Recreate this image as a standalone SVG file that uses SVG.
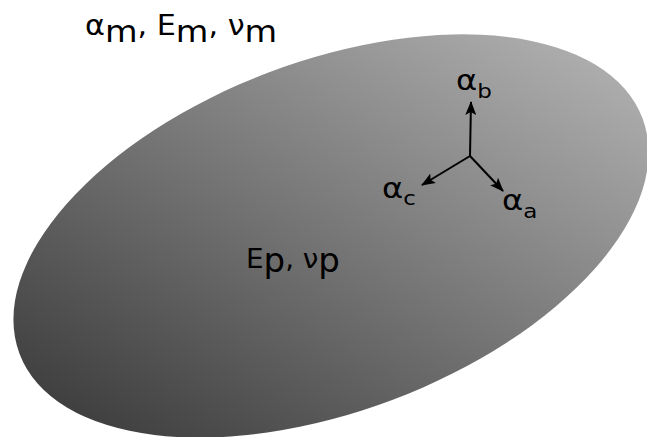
<svg xmlns="http://www.w3.org/2000/svg" width="647" height="437" viewBox="0 0 647 437">
  <defs>
    <linearGradient id="g" gradientUnits="userSpaceOnUse" x1="52" y1="456" x2="563" y2="51">
      <stop offset="0" stop-color="#323232"/>
      <stop offset="1" stop-color="#afafaf"/>
    </linearGradient>
    <marker id="arr" viewBox="0 0 14 11" refX="13" refY="5.5" markerWidth="14" markerHeight="11" markerUnits="userSpaceOnUse" orient="auto">
      <path d="M0,0 L14,5.5 L0,11 L3,5.5 Z" fill="#000"/>
    </marker>
    <style>
      .t { font-family: "DejaVu Sans", sans-serif; fill: #000; }
      .ax { stroke: #000; stroke-width: 2; fill: none; marker-end: url(#arr); }
    </style>
  </defs>
  <rect width="647" height="437" fill="#fff"/>
  <g id="particle">
    <ellipse cx="331" cy="236" rx="333" ry="175" transform="rotate(-20.7 331 236)" fill="url(#g)"/>
    <text class="t" transform="translate(246 268) scale(1.03 1)" font-size="27">E<tspan font-size="33" dy="4">p</tspan><tspan font-size="27" dy="-4">, ν</tspan><tspan font-size="33" dy="4">p</tspan></text>
  </g>
  <g id="matrix">
    <text class="t" transform="translate(85 35) scale(1.08 1)" x="0" y="0" font-size="28">α<tspan font-size="31" dy="7">m</tspan><tspan font-size="28" dy="-7">, E</tspan><tspan font-size="31" dy="7">m</tspan><tspan font-size="28" dy="-7">, ν</tspan><tspan font-size="31" dy="7">m</tspan></text>
  </g>
  <g id="connectors">
    <line class="ax" x1="470" y1="156" x2="471" y2="102"/>
    <line class="ax" x1="470" y1="156" x2="422" y2="185"/>
    <line class="ax" x1="470" y1="156" x2="503" y2="191"/>
  </g>
  <g id="label-b">
    <text class="t" transform="translate(456 90) scale(1.15 1)" font-size="28">α<tspan font-size="20" dy="8">b</tspan></text>
  </g>
  <g id="label-c">
    <text class="t" transform="translate(382 198) scale(1.15 1)" font-size="28">α<tspan font-size="20" dy="7">c</tspan></text>
  </g>
  <g id="label-a">
    <text class="t" transform="translate(502 210) scale(1.15 1)" font-size="28">α<tspan font-size="20" dy="8">a</tspan></text>
  </g>
</svg>
